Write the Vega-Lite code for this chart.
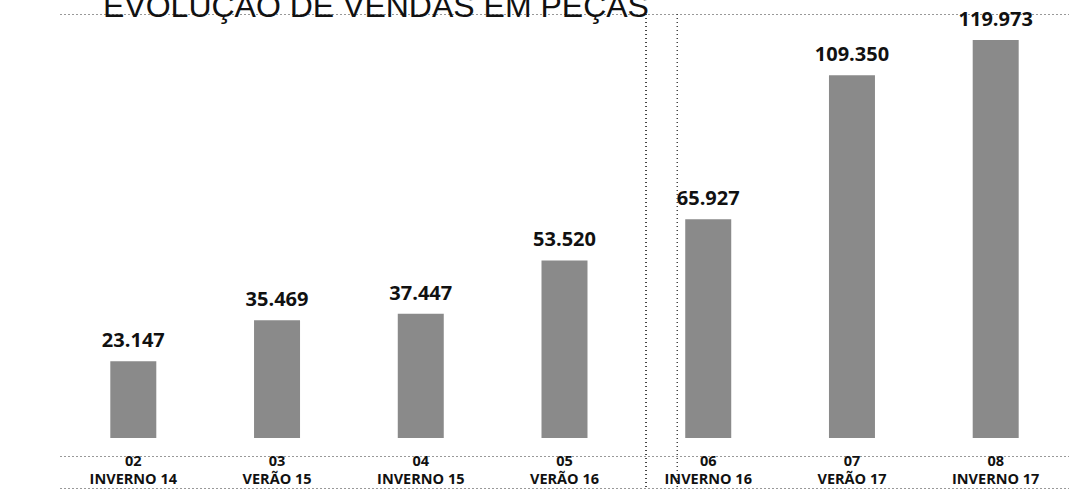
{
  "$schema": "https://vega.github.io/schema/vega-lite/v6.json",
  "width": 1009,
  "height": 474,
  "autosize": {"type": "none"},
  "padding": {"left": 60, "top": 14, "right": 0, "bottom": 2},
  "background": "white",
  "title": {
    "text": "EVOLUÇÃO DE VENDAS EM PEÇAS",
    "anchor": "start",
    "frame": "group",
    "offset": -14,
    "dx": 43,
    "fontSize": 32,
    "font": "Liberation Sans",
    "fontWeight": "normal",
    "color": "#111111"
  },
  "config": {"view": {"stroke": null}},
  "data": {
    "values": [
      {"periodo": "02|INVERNO 14", "pecas": 23147, "rotulo": "23.147"},
      {"periodo": "03|VERÃO 15", "pecas": 35469, "rotulo": "35.469"},
      {"periodo": "04|INVERNO 15", "pecas": 37447, "rotulo": "37.447"},
      {"periodo": "05|VERÃO 16", "pecas": 53520, "rotulo": "53.520"},
      {"periodo": "06|INVERNO 16", "pecas": 65927, "rotulo": "65.927"},
      {"periodo": "07|VERÃO 17", "pecas": 109350, "rotulo": "109.350"},
      {"periodo": "08|INVERNO 17", "pecas": 119973, "rotulo": "119.973"}
    ]
  },
  "encoding": {
    "x": {
      "field": "periodo",
      "type": "nominal",
      "sort": null,
      "scale": {"paddingInner": 0.68, "paddingOuter": 0.35},
      "axis": {
        "title": null,
        "orient": "bottom",
        "domain": true,
        "domainDash": [1, 3],
        "domainColor": "#333333",
        "domainWidth": 1,
        "ticks": false,
        "grid": false,
        "labelExpr": "split(datum.label, '|')",
        "labelLineHeight": 18,
        "labelBaseline": "top",
        "labelPadding": -34,
        "labelFont": "Open Sans",
        "labelFontWeight": "bold",
        "labelFontSize": 14.5,
        "labelColor": "#111111",
        "labelAngle": 0,
        "labelOverlap": false
      }
    }
  },
  "layer": [
    {
      "mark": {"type": "bar", "color": "#8a8a8a"},
      "encoding": {
        "y": {
          "field": "pecas",
          "type": "quantitative",
          "scale": {"domain": [-15073, 127826], "nice": false, "zero": false},
          "axis": {
            "title": null,
            "grid": true,
            "gridDash": [1, 3],
            "gridColor": "#333333",
            "labels": false,
            "ticks": false,
            "domain": false,
            "values": [127826, -5427]
          }
        },
        "y2": {"datum": 0}
      }
    },
    {
      "mark": {"type": "text", "baseline": "bottom", "dy": -10, "font": "Open Sans", "fontWeight": "bold", "fontSize": 20, "color": "#111111"},
      "encoding": {
        "y": {"field": "pecas", "type": "quantitative"},
        "text": {"field": "rotulo"}
      }
    },
    {
      "mark": {"type": "rule", "color": "#111111", "strokeWidth": 2},
      "encoding": {"y": {"datum": 0}}
    },
    {
      "mark": {"type": "rule", "color": "#444444", "strokeWidth": 1, "strokeDash": [1, 3]},
      "encoding": {"x": {"datum": "06|INVERNO 16", "bandPosition": -0.85}}
    },
    {
      "mark": {"type": "rule", "color": "#444444", "strokeWidth": 1, "strokeDash": [1, 3]},
      "encoding": {"x": {"datum": "06|INVERNO 16", "bandPosition": -0.17}}
    }
  ]
}
